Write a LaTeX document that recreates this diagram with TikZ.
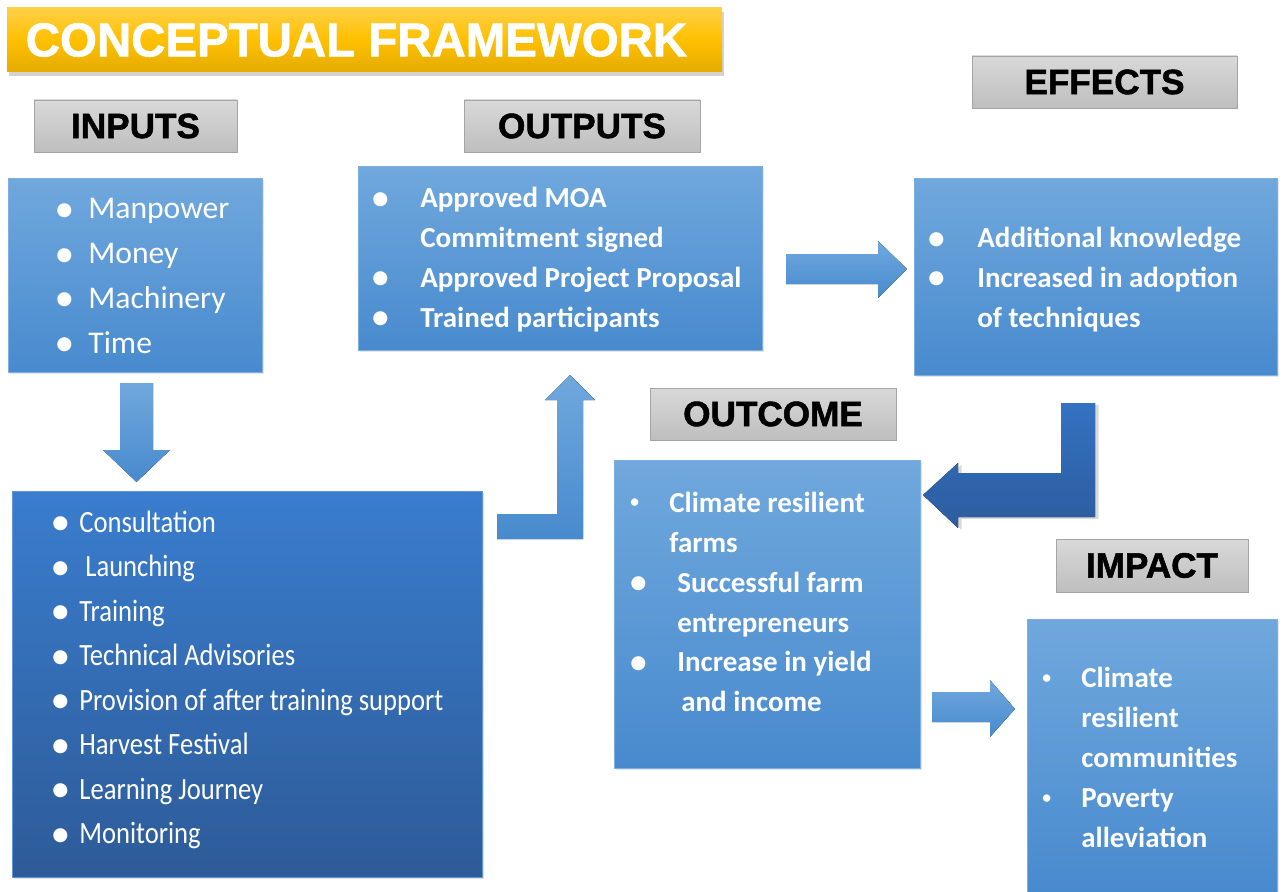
\documentclass[tikz,border=0pt]{standalone}
\usepackage{fontspec}
\setmainfont{Carlito}
\newfontfamily\headfont[FakeBold=1.4]{Liberation Sans Bold}
\newfontfamily\symfont{DejaVu Sans}
\newfontfamily\narrowfont[FakeStretch=0.86]{Carlito}
\usepackage{xcolor}
\usetikzlibrary{shadows}
\usetikzlibrary{calc}

\definecolor{goldtop}{RGB}{255,208,70}
\definecolor{goldmid}{RGB}{255,192,0}
\definecolor{goldbot}{RGB}{228,172,0}
\definecolor{greytop}{RGB}{217,217,217}
\definecolor{greybot}{RGB}{190,190,190}
\definecolor{greyline}{RGB}{165,165,165}
\definecolor{skytop}{RGB}{112,168,221}
\definecolor{skybot}{RGB}{72,138,206}
\definecolor{skyline}{RGB}{125,175,225}
\definecolor{deeptop}{RGB}{58,125,206}
\definecolor{deepbot}{RGB}{45,91,152}
\definecolor{inktop}{RGB}{52,114,194}
\definecolor{inkbot}{RGB}{44,92,158}

%% one unit = one pixel of the layout
\newdimen\pxlen
\pxlen=0.02cm

\newcommand\bigdot{\raisebox{2pt}{\symfont\fontsize{10.5}{10}\selectfont ●}}
\newcommand\smalldot{\raisebox{2.5pt}{\fontsize{10}{10}\selectfont •}}
\newcommand\itm[2]{\makebox[#1\pxlen][l]{#2}}

\begin{document}
\begin{tikzpicture}[x=0.02cm,y=-0.02cm,
    title/.style={top color=goldtop, bottom color=goldbot, middle color=goldmid,
        text=white, font=\headfont\fontsize{27}{27}\selectfont,
        drop shadow={shadow xshift=1pt, shadow yshift=-2pt, opacity=0.35}},
    head/.style={draw=greyline, top color=greytop, bottom color=greybot,
        font=\headfont\fontsize{20}{20}\selectfont, inner sep=0pt},
    lbox/.style={draw=skyline, thin, top color=skytop, bottom color=skybot,
        inner sep=0pt, drop shadow={shadow xshift=1pt, shadow yshift=-1pt, opacity=0.2}},
    dbox/.style={draw=deeptop!80, thin, top color=deeptop, bottom color=deepbot,
        inner sep=0pt, drop shadow={shadow xshift=1pt, shadow yshift=-1pt, opacity=0.25}},
    list/.style={text=white, align=left, inner sep=0pt, anchor=west},
    boldlist/.style={list, font=\bfseries\fontsize{16.5}{22.7}\selectfont},
    larrow/.style={top color=skytop, bottom color=skybot},
    darrow/.style={top color=inktop, bottom color=inkbot,
        drop shadow={shadow xshift=2pt, shadow yshift=-1pt, opacity=0.3}}]

\useasboundingbox (0,0) rectangle (1284,892);

%% title and the five headings
\node[title, minimum width=715*\pxlen, minimum height=64*\pxlen] (frame) at (364.5,40)
    {\hspace*{-16\pxlen}CONCEPTUAL FRAMEWORK};
\node[head, minimum width=203*\pxlen, minimum height=52*\pxlen] (inputsHead) at (135.5,126) {INPUTS};
\node[head, minimum width=236*\pxlen, minimum height=52*\pxlen] (outputsHead) at (582,126) {OUTPUTS};
\node[head, minimum width=265*\pxlen, minimum height=52*\pxlen] (effectsHead) at (1104.5,82) {EFFECTS};
\node[head, minimum width=246*\pxlen, minimum height=52*\pxlen] (outcomeHead) at (773,414) {OUTCOME};
\node[head, minimum width=192*\pxlen, minimum height=53*\pxlen] (impactHead) at (1152,565.5) {IMPACT};

%% boxes
\node[lbox, minimum width=254*\pxlen, minimum height=194*\pxlen] (inputs) at (135,275) {};
\node[lbox, minimum width=404*\pxlen, minimum height=184*\pxlen] (outputs) at (560,258) {};
\node[lbox, minimum width=363*\pxlen, minimum height=197*\pxlen] (effects) at (1095.5,276.5) {};
\node[dbox, minimum width=470*\pxlen, minimum height=386*\pxlen] (activities) at (247,684) {};
\node[lbox, minimum width=306*\pxlen, minimum height=308*\pxlen] (outcome) at (767,614) {};
\node[lbox, minimum width=250*\pxlen, minimum height=273*\pxlen] (impact) at (1152,755.5) {};

%% box texts
\node[list, font=\fontsize{18}{25.5}\selectfont] (inputsList) at (56,276)
    {\itm{32}{\bigdot}Manpower\\ \itm{32}{\bigdot}Money\\ \itm{32}{\bigdot}Machinery\\ \itm{32}{\bigdot}Time};
\node[boldlist] (outputsList) at (372,259.5)
    {\itm{48}{\bigdot}Approved MOA\\ \hspace*{48\pxlen}Commitment signed\\
     \itm{48}{\bigdot}Approved Project Proposal\\ \itm{48}{\bigdot}Trained participants};
\node[boldlist] (effectsList) at (928,279.5)
    {\itm{49}{\bigdot}Additional knowledge\\ \itm{49}{\bigdot}Increased in adoption\\
     \hspace*{49\pxlen}of techniques};
\node[list, font=\narrowfont\fontsize{17.6}{25.3}\selectfont] (activitiesList) at (52,680)
    {\itm{27}{\bigdot}Consultation\\ \itm{27}{\bigdot} Launching\\ \itm{27}{\bigdot}Training\\
     \itm{27}{\bigdot}Technical Advisories\\ \itm{27}{\bigdot}Provision of after training support\\
     \itm{27}{\bigdot}Harvest Festival\\ \itm{27}{\bigdot}Learning Journey\\ \itm{27}{\bigdot}Monitoring};
\node[boldlist] (outcomeList) at (630,602)
    {\itm{39}{\smalldot}Climate resilient\\ \hspace*{39\pxlen}farms\\
     \itm{47}{\bigdot}Successful farm\\ \hspace*{47\pxlen}entrepreneurs\\
     \itm{47}{\bigdot}Increase in yield\\ \hspace*{51\pxlen}and income};
\node[boldlist] (impactList) at (1042,757.5)
    {\itm{39}{\smalldot}Climate\\ \hspace*{39\pxlen}resilient\\ \hspace*{39\pxlen}communities\\
     \itm{39}{\smalldot}Poverty\\ \hspace*{39\pxlen}alleviation};

%% block arrows between the boxes
\fill[larrow] (120,383) -- (153,383) -- (153,450) -- (170,450) -- (136.5,482)
    -- (103,450) -- (120,450) -- cycle;
\fill[larrow] (497,514) -- (557,514) -- (557,400) -- (545,400) -- (570,375)
    -- (595,400) -- (583,400) -- (583,539) -- (497,539) -- cycle;
\fill[larrow] (786,254) -- (878,254) -- (878,241) -- (907,269) -- (878,298)
    -- (878,284) -- (786,284) -- cycle;
\fill[darrow] (1061,403) -- (1095,403) -- (1095,517) -- (958,517) -- (958,528)
    -- (923,495) -- (958,463) -- (958,473) -- (1061,473) -- cycle;
\fill[larrow] (932,692) -- (990,692) -- (990,680) -- (1015,709) -- (990,737)
    -- (990,722) -- (932,722) -- cycle;

\end{tikzpicture}
\end{document}
